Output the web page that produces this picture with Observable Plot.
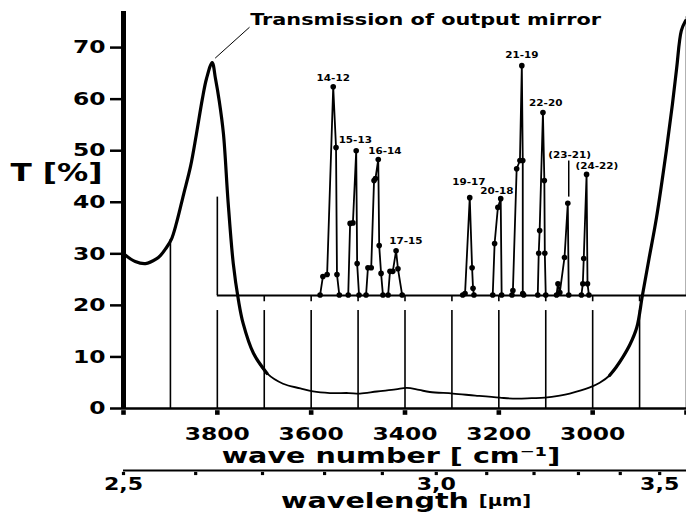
<!DOCTYPE html>
<html>
<head>
<meta charset="utf-8">
<script src="https://cdn.jsdelivr.net/npm/d3@7"></script>
<script src="https://cdn.jsdelivr.net/npm/@observablehq/plot@0.6"></script>
<style>
  html, body { margin: 0; padding: 0; background: #fff; }
</style>
</head>
<body>
<script>
// ---------- data ----------
const xDomain = [4000, 2800];           // wave number [cm-1]
const yDomain = [0, 77];                // T [%]
const yTicks = [0, 10, 20, 30, 40, 50, 60, 70];
const wnTicks = [3800, 3600, 3400, 3200, 3000];
const wnTickMarks = [4000, 3800, 3600, 3400, 3200, 3000, 2800];
const wlTicks = [2.5, 2.6, 2.7, 2.8, 2.9, 3.0, 3.1, 3.2, 3.3, 3.4, 3.5];
const wlLabelVals = [2.5, 3.0, 3.5];
const wlLabels = ["2,5", "3,0", "3,5"];

// transmission of output mirror
const mirrorWn = [4000, 3975, 3953, 3930, 3921, 3910, 3898, 3887, 3872, 3857, 3845, 3832, 3823, 3811, 3804, 3796, 3787, 3777, 3766, 3755, 3745, 3723, 3694, 3660, 3623, 3596, 3560, 3520, 3496, 3460, 3420, 3396, 3370, 3347, 3298, 3250, 3198, 3162, 3130, 3102, 3070, 3049, 3006, 2985, 2964, 2950, 2936, 2920, 2906, 2894, 2880, 2864, 2843, 2830, 2821, 2811, 2802];
const mirrorT  = [30.0, 28.5, 28.1, 29.0, 29.7, 31.0, 32.8, 36.0, 41.5, 47.0, 53.0, 60.0, 64.0, 67.1, 64.0, 59.7, 53.3, 40.0, 28.1, 21.0, 16.5, 10.7, 6.8, 4.8, 3.9, 3.3, 3.0, 3.0, 2.9, 3.3, 3.7, 4.0, 3.6, 3.2, 2.9, 2.5, 2.1, 1.9, 2.0, 2.1, 2.5, 2.9, 4.1, 5.0, 6.4, 8.0, 9.9, 12.5, 15.7, 21.9, 29.0, 37.0, 50.0, 59.0, 66.0, 73.3, 75.2];

// laser lines (drawn above the baseline of the inset)
const baselineT = 21.9;
const laserNames = ["14-12", "15-13", "16-14", "17-15", "19-17", "20-18", "21-19", "22-20", "(23-21)", "(24-22)"];
const laserWn = [
  [3581, 3575, 3566, 3553, 3547, 3545, 3540],
  [3521, 3517, 3511, 3504, 3502, 3498],
  [3483, 3479, 3472, 3466, 3463, 3457, 3455, 3451, 3447],
  [3436, 3432, 3426, 3419, 3415, 3406],
  [3277, 3272, 3262, 3257, 3255, 3253],
  [3213, 3209, 3202, 3196, 3194],
  [3172, 3170, 3162, 3155, 3151, 3149, 3149, 3147],
  [3117, 3115, 3113, 3106, 3103, 3102, 3100],
  [3077, 3074, 3070, 3060, 3053, 3051],
  [3024, 3021, 3019, 3013, 3011, 3008]
];
const laserT = [
  [22, 25.6, 26.0, 62.4, 50.6, 26.0, 22],
  [22, 35.9, 36.0, 50.0, 28.1, 22],
  [22, 27.3, 27.3, 44.2, 44.6, 48.3, 31.6, 26.2, 22],
  [22, 26.6, 26.6, 30.6, 27.1, 22],
  [22, 22.3, 40.9, 27.3, 23.3, 22],
  [22, 32.0, 39.0, 40.7, 22],
  [22, 22.9, 46.5, 48.1, 66.5, 48.1, 22.3, 22],
  [22, 30.1, 34.5, 57.4, 44.2, 30.1, 22],
  [22, 24.2, 22.5, 29.3, 39.8, 22],
  [22, 24.2, 29.1, 45.4, 24.2, 22]
];
const laserLabelWn = [3553, 3506, 3443, 3398, 3264, 3204, 3151, 3100, 3049, 2991];
const laserLabelT  = [63.6, 51.4, 49.4, 32.0, 43.4, 41.7, 67.9, 58.6, 48.5, 46.5];

// vertical guide lines (wave number, from T, to T)
const segWn = [3900, 3800, 3700, 3600, 3500, 3400, 3300, 3200, 3100, 3000, 2900, 2800, 3800, 2800];
const segT1 = [0, 0, 0, 0, 0, 0, 0, 0, 0, 0, 0, 0, 21.9, 21.9];
const segT2 = [32.8, 19, 19, 19, 19, 19, 19, 19, 19, 19, 19, 19, 41, 76];
const baseTickWn = [3700, 3600, 3500, 3400, 3300, 3200, 3100, 3000, 2900];
const baseTickLen = 1.2;

// annotations
const titleText = "Transmission of output mirror";
const titleWn = 3730, titleT = 75.3;
const leaderWn = [3804, 3732], leaderT = [68.0, 73.9];
const connectorWn = 3051, connectorT = [48.0, 41.0];

// ---------- build tables ----------
const mirror = mirrorWn.map((wn, i) => ({wn, T: mirrorT[i]}));
const laser = laserWn.flatMap((arr, g) => arr.map((wn, i) => ({g: laserNames[g], wn, T: laserT[g][i]})));
const laserLabels = laserNames.map((name, i) => ({name, wn: laserLabelWn[i], T: laserLabelT[i]}));
const segs = segWn.map((wn, i) => ({wn, t1: segT1[i], t2: segT2[i]}));
const leader = leaderWn.map((wn, i) => ({wn, T: leaderT[i]}));

const thick = d => (d.wn >= 3694 || d.wn <= 2964) ? d.T : NaN;
const thin = d => (d.wn <= 3723 && d.wn >= 2936) ? d.T : NaN;

const svg = Plot.plot({
  width: 686,
  height: 515,
  marginLeft: 123,
  marginRight: 0,
  marginTop: 11,
  marginBottom: 107,
  x: {domain: xDomain},
  y: {domain: yDomain},
  style: {fontFamily: "DejaVu Sans", fontWeight: "bold", fontSize: "18px", background: "#fff", color: "#000", overflow: "visible"},
  marks: [
    // guide lines
    Plot.ruleX(segs, {x: "wn", y1: "t1", y2: "t2", stroke: "#000", strokeWidth: 1.6}),
    Plot.ruleX(baseTickWn, {x: d => d, y1: baselineT, y2: baselineT - baseTickLen, stroke: "#000", strokeWidth: 1.6}),
    Plot.ruleY([baselineT], {x1: 3800, x2: xDomain[1], stroke: "#000", strokeWidth: 2}),
    // laser lines
    Plot.line(laser, {x: "wn", y: "T", z: "g", stroke: "#000", strokeWidth: 1.8}),
    Plot.dot(laser, {x: "wn", y: "T", r: 2.8, fill: "#000"}),
    Plot.ruleX([connectorWn], {y1: connectorT[0], y2: connectorT[1], stroke: "#000", strokeWidth: 1.5}),
    Plot.text(laserLabels, {x: "wn", y: "T", text: "name", fontSize: 8, lineAnchor: "bottom", textAnchor: "middle", fill: "#000"}),
    // mirror transmission
    Plot.line(mirror, {x: "wn", y: thin, curve: "catmull-rom", stroke: "#000", strokeWidth: 1.8}),
    Plot.line(mirror, {x: "wn", y: thick, curve: "catmull-rom", stroke: "#000", strokeWidth: 3.2, strokeLinejoin: "round"}),
    Plot.line(leader, {x: "wn", y: "T", stroke: "#000", strokeWidth: 1}),
    Plot.text([titleText], {x: titleWn, y: titleT, text: d => d, textAnchor: "start", fontSize: 16, fill: "#000"}),
    // axes
    Plot.ruleY([0], {stroke: "#000", strokeWidth: 2.5}),
    Plot.ruleX([xDomain[0]], {stroke: "#000", strokeWidth: 5}),
    Plot.axisY({ticks: yTicks, tickSize: 13, tickPadding: 5, strokeWidth: 2.5, label: null, fontSize: 18}),
    Plot.axisX({ticks: wnTicks, tickFormat: d => String(d), tickSize: 0, tickPadding: 19, label: null, fontSize: 18}),
    Plot.dot(wnTickMarks, {x: d => d, y: 0, symbol: "square", r: 2.6, fill: "#000", dy: 4}),
    Plot.text(["T [%]"], {frameAnchor: "left", text: d => d, dx: -67, dy: -37, textAnchor: "middle", fontSize: 24, fill: "#000"}),
    Plot.text(["wave number [ cm⁻¹]"], {frameAnchor: "bottom", text: d => d, dx: -14, dy: 47, lineAnchor: "middle", fontSize: 22, fill: "#000"}),
    // wavelength axis
    Plot.ruleY([0], {x1: xDomain[0], x2: xDomain[1], dy: 62, stroke: "#000", strokeWidth: 2}),
    Plot.dot(wlTicks, {x: d => 1e4 / d, y: 0, symbol: "square", r: 1.8, fill: "#000", dy: 65}),
    Plot.text(wlLabelVals, {x: d => 1e4 / d, y: 0, text: (d, i) => wlLabels[i], dy: 76, lineAnchor: "middle", fontSize: 17, fill: "#000"}),
    Plot.text(["wavelength"], {frameAnchor: "bottom", text: d => d, dx: -30, dy: 92, lineAnchor: "middle", fontSize: 22, fill: "#000"}),
    Plot.text(["[μm]"], {frameAnchor: "bottom", text: d => d, dx: 100, dy: 93, lineAnchor: "middle", fontSize: 15, fill: "#000"})
  ]
});
document.body.append(svg);

// emulate the extended (wide) typeface of the original
svg.querySelectorAll("text").forEach(t => {
  const w = t.getComputedTextLength();
  if (w > 0) {
    t.setAttribute("textLength", (w * 1.3).toFixed(1));
    t.setAttribute("lengthAdjust", "spacingAndGlyphs");
  }
});
</script>
</body>
</html>
